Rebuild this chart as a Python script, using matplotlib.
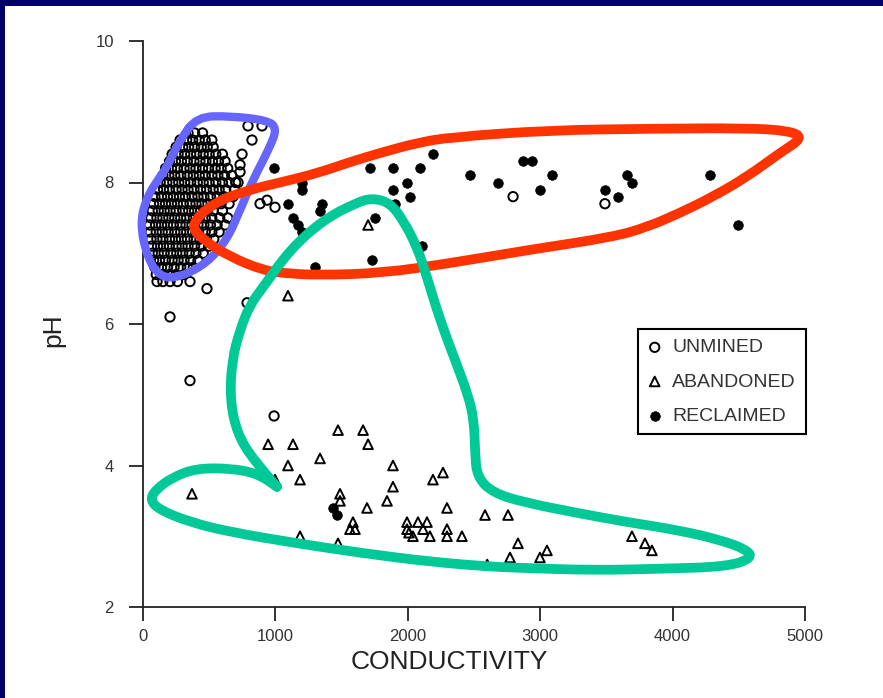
import matplotlib
matplotlib.use('Agg')
import matplotlib.pyplot as plt
from matplotlib.path import Path
from matplotlib.patches import PathPatch, Rectangle

plt.rcParams['font.family'] = ['Liberation Sans', 'DejaVu Sans']

# ---- values: conductivity, pH ----
# unmined, dense cluster, one list per pH row
cluster_rows = {
    8.7: [340, 390, 450],
    8.6: [280, 330, 375, 425, 470, 520],
    8.5: [250, 300, 345, 390, 440, 485, 530],
    8.4: [220, 265, 315, 360, 405, 455, 500, 550, 600],
    8.3: [200, 245, 290, 335, 385, 430, 475, 525, 570, 620],
    8.2: [170, 215, 260, 310, 355, 400, 450, 495, 545, 590, 640],
    8.1: [150, 195, 240, 285, 335, 380, 425, 470, 520, 565, 615, 670],
    8.0: [130, 180, 225, 270, 315, 360, 410, 455, 500, 550, 600, 650, 700],
    7.9: [110, 155, 200, 250, 295, 340, 385, 435, 480, 530, 575, 625, 690],
    7.8: [90, 140, 185, 230, 275, 320, 370, 415, 460, 510, 560, 610, 680],
    7.7: [80, 125, 170, 215, 260, 305, 355, 400, 445, 490, 540, 590, 650],
    7.6: [70, 115, 160, 205, 250, 300, 345, 390, 435, 485, 530, 600],
    7.5: [60, 105, 150, 195, 240, 285, 330, 380, 425, 470, 520, 580, 640],
    7.4: [50, 95, 140, 185, 230, 280, 325, 370, 415, 460, 510, 560, 620],
    7.3: [55, 100, 145, 190, 240, 285, 330, 375, 420, 470, 520, 575],
    7.2: [60, 105, 150, 200, 245, 290, 335, 385, 430, 480, 535],
    7.1: [65, 110, 155, 200, 250, 295, 340, 390, 440, 495],
    7.0: [70, 115, 160, 210, 255, 300, 350, 400, 455],
    6.9: [80, 125, 170, 220, 265, 310, 360, 415],
    6.8: [90, 140, 185, 235, 285, 335, 380],
    6.7: [100, 150, 200, 250, 310],
}
# unmined, scattered points
unmined_x = [2795, 3489, 204, 355, 990, 786, 483, 106, 204, 355, 150, 260,
             793, 899, 823, 748, 733, 733, 718, 937, 997, 884]
unmined_y = [7.8, 7.7, 6.1, 5.2, 4.7, 6.3, 6.5, 6.6, 6.6, 6.6, 6.6, 6.6,
             8.8, 8.8, 8.6, 8.4, 8.25, 8.15, 8.0, 7.75, 7.65, 7.7]
for ph, xs in cluster_rows.items():
    unmined_x = unmined_x + xs
    unmined_y = unmined_y + [ph] * len(xs)

abandoned_x = [1095, 370, 945, 1133, 1473, 1662, 1700, 1337, 1095, 1186,
               997, 1488, 1488, 1692, 1888, 1888, 1843, 2190, 2266, 2296,
               2583, 1586, 1601, 1563, 1994, 1994, 2077, 2145, 2115, 2039,
               2167, 2296, 2296, 2409, 2009, 1186, 1473, 2757, 2832, 2772,
               3051, 2998, 3693, 3791, 3844, 2600, 1700]
abandoned_y = [6.4, 3.6, 4.3, 4.3, 4.5, 4.5, 4.3, 4.1, 4.0, 3.8,
               3.8, 3.6, 3.5, 3.4, 4.0, 3.7, 3.5, 3.8, 3.9, 3.4,
               3.3, 3.2, 3.1, 3.1, 3.2, 3.1, 3.2, 3.2, 3.1, 3.0,
               3.0, 3.1, 3.0, 3.0, 3.05, 3.0, 2.9, 3.3, 2.9, 2.7,
               2.8, 2.7, 3.0, 2.9, 2.8, 2.6, 7.4]

reclaimed_x = [990, 1201, 1201, 1095, 1133, 1171, 1201, 1352, 1337, 1299,
               1715, 1888, 2092, 2190, 1994, 1888, 2017, 1903, 1752, 2107,
               1730, 2470, 2681, 2870, 2938, 2998, 3089, 3489, 3588, 3656,
               3693, 4282, 4494, 1435, 1465]
reclaimed_y = [8.2, 8.0, 7.9, 7.7, 7.5, 7.4, 7.3, 7.7, 7.6, 6.8,
               8.2, 8.2, 8.2, 8.4, 8.0, 7.9, 7.8, 7.7, 7.5, 7.1,
               6.9, 8.1, 8.0, 8.3, 8.3, 7.9, 8.1, 7.9, 7.8, 8.1,
               8.0, 8.1, 7.4, 3.4, 3.3]

# hand drawn loops (conductivity, pH)
blue_loop = [(408, 8.93), (657, 8.94), (937, 8.88), (1012, 8.77), (959, 8.50),
             (831, 8.04), (733, 7.61), (634, 7.19), (483, 6.86), (279, 6.66),
             (128, 6.66), (30, 6.95), (-23, 7.43), (30, 7.80), (128, 8.08),
             (181, 8.22), (279, 8.60)]
red_loop = [(355, 7.40), (529, 7.71), (786, 7.89), (1057, 8.01), (1314, 8.13),
            (1563, 8.29), (1813, 8.43), (2070, 8.56), (2319, 8.64), (3074, 8.74),
            (3830, 8.76), (4562, 8.77), (4887, 8.73), (4985, 8.63), (4811, 8.42),
            (4562, 8.08), (4305, 7.80), (4056, 7.57), (3807, 7.37), (3550, 7.23),
            (2923, 7.05), (2319, 6.86), (1813, 6.72), (1314, 6.69), (1057, 6.72),
            (906, 6.76), (657, 6.95), (453, 7.19)]
green_loop = [(1012, 3.70), (831, 4.08), (710, 4.46), (657, 4.93), (672, 5.49),
              (733, 5.92), (808, 6.27), (906, 6.52), (1110, 7.05), (1360, 7.47),
              (1616, 7.72), (1737, 7.78), (1866, 7.71), (1964, 7.47), (2070, 7.09),
              (2145, 6.66), (2243, 6.06), (2357, 5.49), (2455, 5.00), (2500, 4.64),
              (2508, 4.18), (2523, 3.84), (2644, 3.61), (2900, 3.47), (3278, 3.33),
              (3656, 3.20), (4033, 3.09), (4358, 2.95), (4562, 2.81), (4600, 2.69),
              (4411, 2.57), (3905, 2.54), (3399, 2.52), (2900, 2.55), (2621, 2.57),
              (2168, 2.64), (1662, 2.76), (1163, 2.90), (657, 3.06), (355, 3.20),
              (128, 3.37), (53, 3.51), (91, 3.65), (227, 3.84), (408, 3.96),
              (657, 3.96), (861, 3.89), (1012, 3.70)]


def mid(a, b):
    return ((a[0] + b[0]) / 2, (a[1] + b[1]) / 2)


def loop_path(pts, closed=True):
    n = len(pts)
    if closed:
        verts = [mid(pts[-1], pts[0])]
        codes = [Path.MOVETO]
        for i in range(n):
            verts += [pts[i], mid(pts[i], pts[(i + 1) % n])]
            codes += [Path.CURVE3, Path.CURVE3]
    else:
        verts = [pts[0]]
        codes = [Path.MOVETO]
        for i in range(1, n - 1):
            verts += [pts[i], mid(pts[i], pts[i + 1])]
            codes += [Path.CURVE3, Path.CURVE3]
        verts.append(pts[-1])
        codes.append(Path.LINETO)
    return Path(verts, codes)


fig = plt.figure(figsize=(8.83, 6.98), dpi=100)
ax = fig.add_axes([143 / 883, 1 - 607 / 698, 662 / 883, 566 / 698])

ax.scatter(unmined_x, unmined_y, s=45, marker='o', facecolors='none',
           edgecolors='black', linewidths=1.4, label='UNMINED', zorder=3)
ax.scatter(abandoned_x, abandoned_y, s=48, marker='^', facecolors='none',
           edgecolors='black', linewidths=1.4, label='ABANDONED', zorder=3)
ax.scatter(reclaimed_x, reclaimed_y, s=48, marker='o', facecolors='black',
           edgecolors='black', linewidths=0.5, label='RECLAIMED', zorder=3)

ax.add_patch(PathPatch(loop_path(blue_loop), fill=False, edgecolor='#6666FF',
                       lw=6, capstyle='round', joinstyle='round', zorder=5, clip_on=False))
ax.add_patch(PathPatch(loop_path(red_loop), fill=False, edgecolor='#FF3300',
                       lw=7, capstyle='round', joinstyle='round', zorder=6, clip_on=False))
ax.add_patch(PathPatch(loop_path(green_loop, closed=False), fill=False, edgecolor='#00C896',
                       lw=7, capstyle='round', joinstyle='round', zorder=7, clip_on=False))

ax.set_xlim(0, 5000)
ax.set_ylim(2, 10)
ax.set_xticks([0, 1000, 2000, 3000, 4000, 5000])
ax.set_yticks([2, 4, 6, 8, 10])
for s in ['top', 'right']:
    ax.spines[s].set_visible(False)
for s in ['left', 'bottom']:
    ax.spines[s].set_linewidth(1.3)
    ax.spines[s].set_color('#222222')
ax.tick_params(direction='out', length=10, width=1.3, color='#222222',
               labelsize=12, labelcolor='#333333')
ax.tick_params(axis='y', pad=11)
ax.tick_params(axis='x', pad=6)

ax.set_xlabel('CONDUCTIVITY', fontsize=19, color='#222222')
ax.xaxis.set_label_coords(0.462, -0.076)
ax.set_ylabel('pH', fontsize=19, color='#222222')
ax.yaxis.set_label_coords(-0.118, 0.489)

leg = ax.legend(loc='upper left', bbox_to_anchor=(0.748, 0.491), frameon=True,
                fancybox=False, edgecolor='black', fontsize=14, handletextpad=0.55,
                handlelength=0.7, borderpad=0.5, labelspacing=0.85,
                borderaxespad=0, scatterpoints=1, framealpha=1)
leg.get_frame().set_linewidth(1.5)
for t in leg.get_texts():
    t.set_color('#333333')
leg.set_zorder(10)

# navy slide border along the top and left
fig.patches.append(Rectangle((0, 1 - 6 / 698), 1, 6 / 698, transform=fig.transFigure,
                             facecolor='#000066', edgecolor='none'))
fig.patches.append(Rectangle((0, 0), 5 / 883, 1, transform=fig.transFigure,
                             facecolor='#000066', edgecolor='none'))

fig.savefig('out.png', dpi=100)
